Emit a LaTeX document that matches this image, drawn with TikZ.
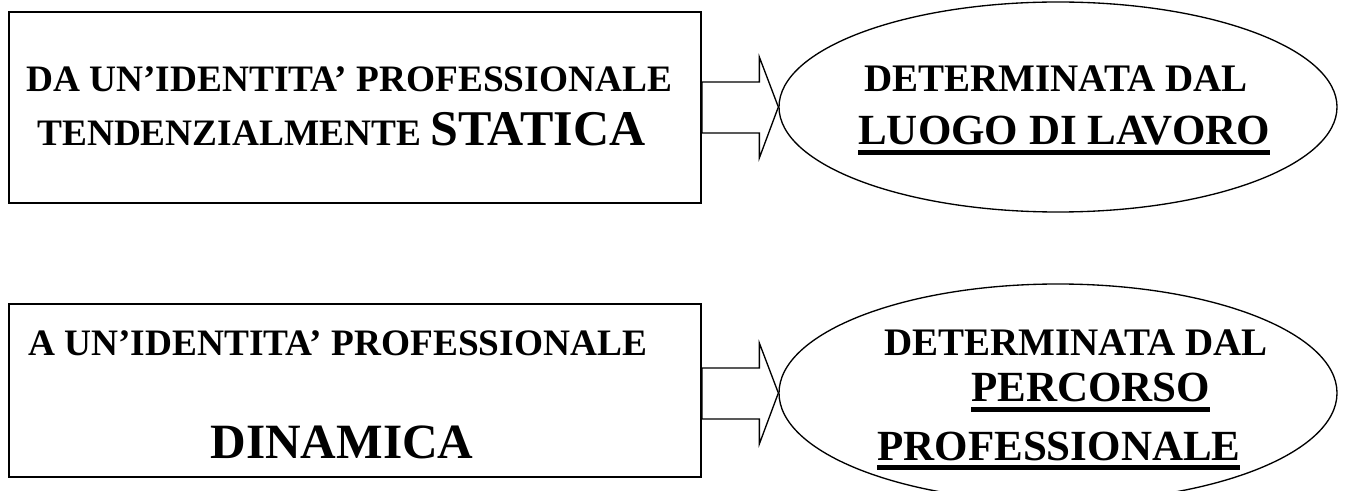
\documentclass[tikz,border=0pt]{standalone}
\usepackage{fontspec}
\setmainfont{Liberation Serif}
\usetikzlibrary{shapes.geometric,calc}
\tikzset{
idbox/.style={
  rectangle,
  draw=black,
  line width=1.5pt,
  inner sep=0pt,
  minimum width=519pt
  },
goal/.style={
  ellipse,
  draw=black,
  line width=1pt,
  inner sep=0pt,
  minimum width=418.5pt
  },
txt/.style={inner sep=0pt, anchor=base west, font=\bfseries},
blockarrow/.style={draw=black, line width=1pt, line join=miter}
}
\newcommand{\sizeA}{\fontsize{28}{32}\selectfont}
\newcommand{\sizeB}{\fontsize{37.5}{42}\selectfont}
\newcommand{\sizeC}{\fontsize{29.25}{34}\selectfont}
\newcommand{\sizeD}{\fontsize{32.25}{37}\selectfont}
\newcommand{\ulthick}[1]{\vtop{\hbox{#1}\kern3.6pt\hrule height3.6pt}}

\begin{document}
\begin{tikzpicture}[x=0.75pt,y=-0.75pt]
\useasboundingbox (0,0) rectangle (1345,491);

% boxes and ellipses
\node[idbox,minimum height=143.25pt] (from) at (355,107.5) {};
\node[idbox,minimum height=129.75pt] (to) at (355,390.5) {};
\node[goal,minimum height=157.5pt] (place) at (1058,107) {};
\node[goal,minimum height=163.5pt] (path) at (1058,393) {};

% texts
\node[txt] (fromA) at (26,92) {\sizeA DA UN’IDENTITA’ PROFESSIONALE};
\node[txt] (fromB) at (37,146) {\sizeA TENDENZIALMENTE \sizeB STATICA};
\node[txt] (toA) at (28,356) {\sizeA A UN’IDENTITA’ PROFESSIONALE};
\node[txt,anchor=base] (toB) at (342,458) {\fontsize{37}{42}\selectfont DINAMICA};

\node[txt] (placeA) at (864,92) {\sizeC DETERMINATA DAL};
\node[txt] (placeB) at (858,145) {\sizeD\ulthick{LUOGO DI LAVORO}};
\node[txt] (pathA) at (884,355) {\sizeC DETERMINATA DAL};
\node[txt] (pathB) at (971,402) {\sizeD\ulthick{PERCORSO}};
\node[txt] (pathC) at (877,460) {\sizeD\ulthick{PROFESSIONALE}};

% block arrows
\foreach \b/\e in {from/place,to/path}{
  \path (\e.west) ++(-19,-25) coordinate (st) ++(0,51) coordinate (sb);
  \draw[blockarrow] (\b.east |- st) -- (st) -- ++(0,-25) -- (\e.west)
    -- ++(-19,51) -- (sb) -- (\b.east |- sb) -- cycle;
}

\end{tikzpicture}
\end{document}
